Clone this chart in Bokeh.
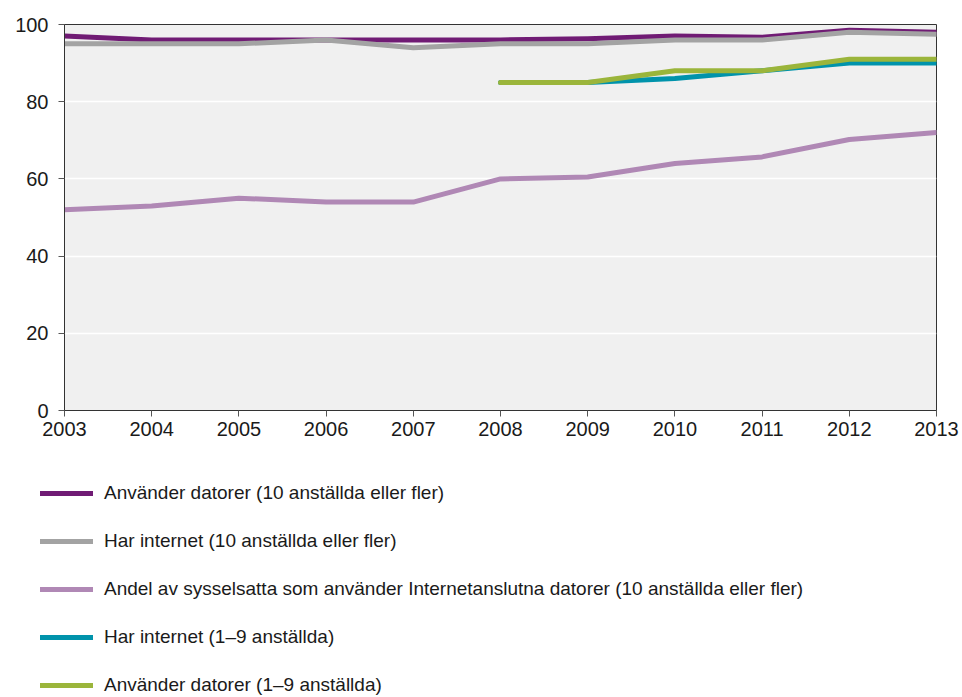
from bokeh.plotting import figure
from bokeh.models import Legend, LegendItem, FixedTicker, Range1d
from bokeh.embed import file_html
from bokeh.resources import INLINE

years = [2003, 2004, 2005, 2006, 2007, 2008, 2009, 2010, 2011, 2012, 2013]
years_small = [2008, 2009, 2010, 2011, 2012, 2013]

datorer_10 = [97, 96, 96, 96, 96, 96, 96.3, 97, 96.7, 98.5, 98]
internet_10 = [95, 95, 95, 96, 94, 95, 95, 96, 96, 98, 97.5]
andel_syss = [52, 53, 55, 54, 54, 60, 60.5, 64, 65.7, 70.2, 72]
internet_1_9 = [85, 85, 86, 88, 90, 90]
datorer_1_9 = [85, 85, 88, 88, 91, 91]

labels = [
    "Använder datorer (10 anställda eller fler)",
    "Har internet (10 anställda eller fler)",
    "Andel av sysselsatta som använder Internetanslutna datorer (10 anställda eller fler)",
    "Har internet (1–9 anställda)",
    "Använder datorer (1–9 anställda)",
]
colors = ["#701b74", "#a3a3a3", "#b088b5", "#0093ab", "#9bb53b"]
y_ticks = [0, 20, 40, 60, 80, 100]

p = figure(width=962, height=452, output_backend="svg", toolbar_location=None,
           x_range=Range1d(2003, 2013), y_range=Range1d(0, 100),
           min_border_left=64, min_border_top=24, min_border_right=26,
           min_border_bottom=42)
p.background_fill_color = "#f0f0f0"
p.border_fill_color = "white"
p.outline_line_color = "#333333"
p.outline_line_width = 1

p.xgrid.visible = False
p.ygrid.grid_line_color = "white"
p.ygrid.grid_line_width = 1.5
p.ygrid.ticker = FixedTicker(ticks=y_ticks)

p.yaxis.ticker = FixedTicker(ticks=y_ticks)
p.xaxis.ticker = FixedTicker(ticks=years)
for ax in (p.xaxis[0], p.yaxis[0]):
    ax.axis_line_color = "#333333"
    ax.major_tick_line_color = "#555555"
    ax.major_tick_out = 6
    ax.major_tick_in = 0
    ax.minor_tick_out = 0
    ax.minor_tick_in = 0
    ax.major_label_text_font = "Liberation Sans"
    ax.major_label_text_font_size = "20px"
    ax.major_label_text_color = "#1a1a1a"
p.yaxis.major_label_standoff = 10
p.xaxis.major_label_standoff = 5

series = [
    (years, datorer_10),
    (years, internet_10),
    (years, andel_syss),
    (years_small, internet_1_9),
    (years_small, datorer_1_9),
]
for (xs, ys), c in zip(series, colors):
    p.line(xs, ys, line_color=c, line_width=5, line_cap="round", line_join="round")

# legend panel below the chart (separate root, so its frame is not aligned)
p2 = figure(width=962, height=245, output_backend="svg", toolbar_location=None,
            x_range=Range1d(0, 1), y_range=Range1d(0, 1),
            x_axis_location=None, y_axis_location=None,
            min_border=0, outline_line_color=None)
p2.grid.visible = False
p2.background_fill_color = "white"
items = []
for (xs, ys), c, lab in zip(series, colors, labels):
    r = p2.line(xs, ys, line_color=c, line_width=5, line_cap="round", visible=False)
    items.append(LegendItem(label=lab, renderers=[r]))

legend = Legend(items=items, location=(40, 1), orientation="vertical",
                label_text_font="Liberation Sans", label_text_font_size="19px",
                label_text_color="#1a1a1a", glyph_width=53, glyph_height=20,
                label_height=20, spacing=26, padding=0, margin=0,
                label_standoff=11, border_line_color=None,
                background_fill_alpha=0)
p2.add_layout(legend, "center")

open("out.html", "w").write(file_html([p, p2], INLINE))
